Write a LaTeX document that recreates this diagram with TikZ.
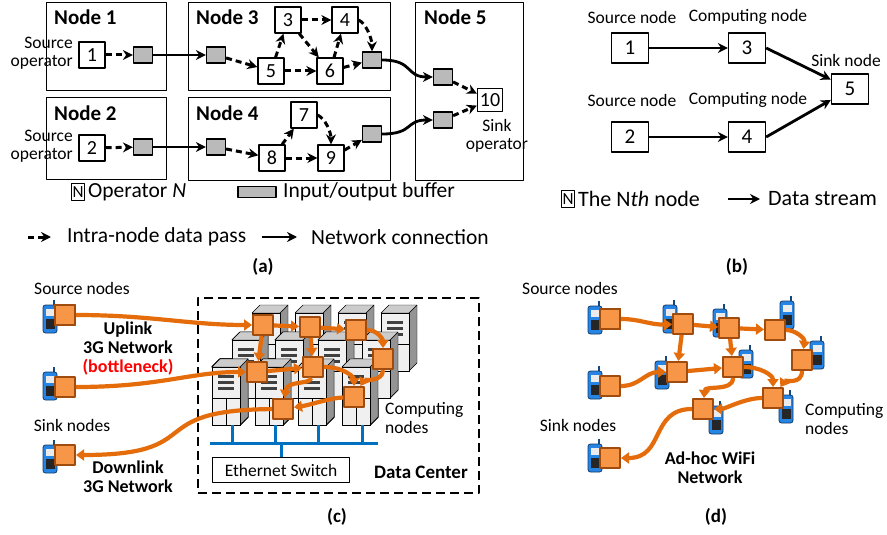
\documentclass[tikz,border=0pt]{standalone}
\usepackage{fontspec}
\setmainfont{Carlito}
\usetikzlibrary{arrows.meta,positioning}

\definecolor{streamc}{RGB}{228,108,10}
\definecolor{peerfill}{RGB}{247,150,70}
\definecolor{peerrim}{RGB}{160,76,14}
\definecolor{fonec}{RGB}{38,132,228}
\definecolor{busc}{RGB}{0,112,192}

\newcommand\handset[2]{%
  \fill[fonec!55!black] (#1+3,#2-12) rectangle (#1+5.2,#2-19);
  \filldraw[fill=fonec, draw=fonec!45!black, line width=.8pt, rounded corners=2.5pt]
    (#1-7,#2-14) rectangle (#1+7,#2+14);
  \fill[black!8] (#1-4.5,#2-10) rectangle (#1+4.5,#2-3);
  \fill[black!85] (#1-4.5,#2) rectangle (#1+4.5,#2+10);
}
\newcommand\rack[2]{%
  \filldraw[fill=black!42] (#1+28,#2) -- (#1+36,#2-8) -- (#1+36,#2+50) -- (#1+28,#2+58) -- cycle;
  \filldraw[fill=black!20] (#1,#2) -- (#1+8,#2-8) -- (#1+36,#2-8) -- (#1+28,#2) -- cycle;
  \filldraw[fill=black!6] (#1,#2) rectangle (#1+28,#2+58);
  \foreach \s in {8,14,20} \fill[black!75] (#1+6,#2+\s) rectangle (#1+22,#2+\s+3);
  \draw (#1,#2+31) -- (#1+28,#2+31) (#1+14,#2+31) -- (#1+14,#2+58);
}

\begin{document}
\begin{tikzpicture}[x=1pt, y=-1pt, line join=round,
  >={Stealth[length=10pt,width=10pt]},
  host/.style={draw, line width=1.2pt, anchor=north west, inner sep=0pt},
  hosttitle/.style={anchor=west, inner sep=0pt, font=\bfseries\fontsize{21}{22}\selectfont},
  op/.style={draw, fill=white, line width=1.3pt, minimum width=26pt, minimum height=26pt,
    inner sep=0pt, font=\fontsize{20}{20}\selectfont},
  keybox/.style={draw, line width=1pt, minimum width=13pt, minimum height=17pt, inner sep=0pt,
    font=\fontsize{17}{17}\selectfont},
  buf/.style={draw, fill=black!27, line width=1.2pt, minimum width=19pt, minimum height=16pt, inner sep=0pt},
  intra/.style={->, line width=3pt, dash pattern=on 6pt off 4pt},
  net/.style={->, line width=2.8pt},
  txt/.style={inner sep=0pt, font=\fontsize{17.5}{18.5}\selectfont},
  boldtxt/.style={inner sep=0pt, align=center, font=\bfseries\fontsize{18}{19}\selectfont},
  keytxt/.style={inner sep=0pt, anchor=west, font=\fontsize{21.5}{22}\selectfont},
  panel/.style={inner sep=0pt, font=\bfseries\fontsize{19}{20}\selectfont},
  hop/.style={draw, line width=1.3pt, minimum width=37pt, minimum height=30pt, inner sep=0pt,
    font=\fontsize{21}{21}\selectfont},
  peer/.style={draw=peerrim, fill=peerfill, line width=2pt, minimum size=20pt, inner sep=0pt},
  stream/.style={draw=streamc, line width=4.2pt, -{Triangle[length=8pt,width=11pt]}},
  ]
\useasboundingbox[fill=white] (0,0) rectangle (887,535);

% (a)
\node[host, minimum width=120pt, minimum height=88pt] (h1) at (46,2) {};
\node[host, minimum width=120pt, minimum height=82pt] (h2) at (46,97) {};
\node[host, minimum width=202pt, minimum height=88pt] (h3) at (188,2) {};
\node[host, minimum width=202pt, minimum height=83pt] (h4) at (188,97) {};
\node[host, minimum width=108pt, minimum height=178pt] (h5) at (415,2) {};
\foreach \nm/\x/\y/\t in {t1/54/17/1, t2/54/113/2, t3/196/17/3, t4/196/113/4, t5/424/17/5}
  \node[hosttitle] (\nm) at (\x,\y) {Node \t};
\node[txt, align=right, anchor=east] (src1) at (73,53) {Source\\operator};
\node[txt, align=right, anchor=east] (src2) at (73,146) {Source\\operator};
\node[txt, align=center] (snk) at (497,136) {Sink\\operator};

\node[op] (o1) at (92,55) {1};
\node[op] (o2) at (92,148) {2};
\node[op] (o3) at (288,20) {3};
\node[op] (o4) at (345,20) {4};
\node[op] (o5) at (271,71) {5};
\node[op] (o6) at (330,71) {6};
\node[op] (o7) at (304,115) {7};
\node[op] (o8) at (272,158) {8};
\node[op] (o9) at (331,158) {9};
\node[op, minimum width=25pt, minimum height=23pt] (o10) at (490,100) {10};

\node[buf] (b1) at (143,55) {};
\node[buf] (b2) at (143,147) {};
\node[buf] (b3i) at (216,55) {};
\node[buf] (b4i) at (216,147) {};
\node[buf] (b3o) at (372,60) {};
\node[buf] (b4o) at (372,134) {};
\node[buf] (b5a) at (443,77) {};
\node[buf] (b5b) at (443,120) {};

\draw[intra] (o1) -- (b1);
\draw[intra] (o2) -- (b2);
\draw[intra] (b3i) -- (o5);
\draw[intra] (o5) -- (o3);
\draw[intra] (o5) -- (o6);
\draw[intra] (o3) -- (o4);
\draw[intra] (o3) -- (o6);
\draw[intra] (o6) -- (o4);
\draw[intra] (o6) -- (b3o);
\draw[intra] (o4.east) .. controls +(8,4) and +(0,-12) .. (b3o.north);
\draw[intra] (b4i) -- (o8);
\draw[intra] (o8) -- (o7);
\draw[intra] (o8) -- (o9);
\draw[intra] (o7.east) .. controls +(8,4) and +(0,-12) .. (o9.north);
\draw[intra] (o9) -- (b4o);
\draw[intra] (b5a) -- (o10);
\draw[intra] (b5b) -- (o10);
\draw[net] (b1) -- (b3i);
\draw[net] (b2) -- (b4i);
\draw[net] (b3o.east) .. controls +(32,0) and +(-28,0) .. (b5a.west);
\draw[net] (b4o.east) .. controls +(32,0) and +(-28,0) .. (b5b.west);

\node[keybox] (kop) at (78,192) {N};
\node[keytxt] (kopt) at (88,192) {Operator \textit{N}};
\node[buf, minimum width=38pt, minimum height=11pt] (kbuf) at (257,192) {};
\node[keytxt] (kbuft) at (283,192) {Input/output buffer};
\coordinate (kia) at (28,237);
\coordinate (kib) at (51,237);
\draw[intra] (kia) -- (kib);
\node[keytxt] (kit) at (67,237) {Intra-node data pass};
\coordinate (kna) at (262,237);
\coordinate (knb) at (297,237);
\draw[net] (kna) -- (knb);
\node[keytxt] (knt) at (311,237) {Network connection};
\node[panel] (capa) at (263,267) {(a)};

% (b)
\node[hop] (p1) at (630,48) {1};
\node[hop] (p3) at (747,48) {3};
\node[hop] (p2) at (630,137) {2};
\node[hop] (p4) at (747,137) {4};
\node[hop] (p5) at (850,89) {5};
\node[txt] (s1) at (632,17) {Source node};
\node[txt] (s2) at (632,100) {Source node};
\node[txt] (c3t) at (748,17) {Computing node};
\node[txt] (c4t) at (748,100) {Computing node};
\node[txt] (s5) at (846,60) {Sink node};
\draw[net] (p1) -- (p3);
\draw[net] (p2) -- (p4);
\draw[net] (p3.east) -- (p5);
\draw[net] (p4.east) -- (p5);
\node[keybox] (kn) at (568,199) {N};
\node[keytxt, font=\fontsize{22}{22}\selectfont] (knn) at (578,199) {The N\textit{th} node};
\coordinate (kda) at (728,199);
\coordinate (kdb) at (760,199);
\draw[net] (kda) -- (kdb);
\node[keytxt, font=\fontsize{22}{22}\selectfont] (kds) at (768,199) {Data stream};
\node[panel] (capb) at (737,267) {(b)};

% (c)
\foreach \x in {252,295,338,381} \rack{\x}{313}
\foreach \x in {232,275,318,362} \rack{\x}{340}
\foreach \x in {212,255,298,342} \rack{\x}{367}
\foreach \x in {232,275,318,362} \draw[busc, line width=3pt] (\x,425) -- (\x,443);
\draw[busc, line width=3pt] (210,443) -- (378,443);
\node[draw, line width=1.2pt, minimum width=137pt, minimum height=25pt, txt] (sw) at (281,470) {Ethernet Switch};
\draw[busc, line width=3pt] (sw.north) -- ++(0,-14);
\node[draw, line width=2.4pt, dash pattern=on 9pt off 5pt, minimum width=281pt, minimum height=195pt,
  anchor=north west, inner sep=0pt] (dc) at (197,297) {};
\node[panel] (dct) at (421,472) {Data Center};
\node[txt, align=left, anchor=west] (cmpc) at (385,418) {Computing\\nodes};

\foreach \y in {319,386,459} \handset{50}{\y}
\node[peer] (cs1) at (65,315) {};
\node[peer] (cs2) at (65,387) {};
\node[peer] (cs3) at (65,455) {};
\node[txt] (srcc) at (82,288) {Source nodes};
\node[txt] (snkc) at (72,425) {Sink nodes};
\node[boldtxt] (up) at (128,349) {Uplink\\3G Network\\\textcolor{red}{(bottleneck)}};
\node[boldtxt] (down) at (128,477) {Downlink\\3G Network};

\node[peer] (c1) at (263,325) {};
\node[peer] (c2) at (310,327) {};
\node[peer] (c3) at (356,330) {};
\node[peer] (c4) at (383,359) {};
\node[peer] (c5) at (257,372) {};
\node[peer] (c6) at (313,367) {};
\node[peer] (c7) at (354,397) {};
\node[peer] (c8) at (283,409) {};

\draw[stream] (cs1) .. controls (150,315) and (190,325) .. (c1);
\draw[stream] (cs2) .. controls (160,387) and (190,372) .. (c5);
\draw[stream] (c8) .. controls (140,410) and (210,455) .. (cs3);
\draw[stream] (c1) -- (c2);
\draw[stream] (c2) -- (c3);
\draw[stream] (c3) .. controls (378,330) and (383,340) .. (c4);
\draw[stream] (c1) -- (c5);
\draw[stream] (c2) -- (c6);
\draw[stream] (c5) -- (c6);
\draw[stream] (c6) .. controls (345,367) and (354,378) .. (c7);
\draw[stream] (c4) .. controls (383,382) and (364,380) .. (c7);
\draw[stream] (c6) .. controls (310,385) and (287,380) .. (c8);
\draw[stream] (c7) .. controls (330,398) and (310,405) .. (c8);
\node[panel] (capc) at (337,517) {(c)};

% (d)
\foreach \x/\y in {595/320, 595/385, 595/458, 670/319, 720/323, 787/315, 817/355, 662/375, 746/364, 786/409, 716/420}
  \handset{\x}{\y}
\node[peer] (ds1) at (610,319) {};
\node[peer] (ds2) at (610,386) {};
\node[peer] (dsk) at (610,458) {};
\node[peer] (d1) at (683,324) {};
\node[peer] (d2) at (729,328) {};
\node[peer] (d3) at (775,330) {};
\node[peer] (d4) at (802,360) {};
\node[peer] (d5) at (677,372) {};
\node[peer] (d6) at (733,367) {};
\node[peer] (d7) at (773,398) {};
\node[peer] (d8) at (703,409) {};
\node[txt] (srcd) at (570,288) {Source nodes};
\node[txt] (snkd) at (578,425) {Sink nodes};
\node[txt, align=left, anchor=west] (cmpd) at (805,419) {Computing\\nodes};
\node[boldtxt] (wifi) at (710,468) {Ad-hoc WiFi\\Network};

\draw[stream] (ds1) .. controls (640,319) and (650,325) .. (d1);
\draw[stream] (d1) -- (d2);
\draw[stream] (d2) -- (d3);
\draw[stream] (d3) .. controls (795,330) and (805,338) .. (d4);
\draw[stream] (d1) -- (d5);
\draw[stream] (d2) -- (d6);
\draw[stream] (ds2) .. controls (640,386) and (645,372) .. (d5);
\draw[stream] (d5) -- (d6);
\draw[stream] (d6) .. controls (760,367) and (773,375) .. (d7);
\draw[stream] (d4) .. controls (802,385) and (785,380) .. (d7);
\draw[stream] (d6) .. controls (733,392) and (705,385) .. (d8);
\draw[stream] (d7) .. controls (745,398) and (725,409) .. (d8);
\draw[stream] (d8) .. controls (650,409) and (665,458) .. (dsk);
\node[panel] (capd) at (716,517) {(d)};
\end{tikzpicture}
\end{document}
